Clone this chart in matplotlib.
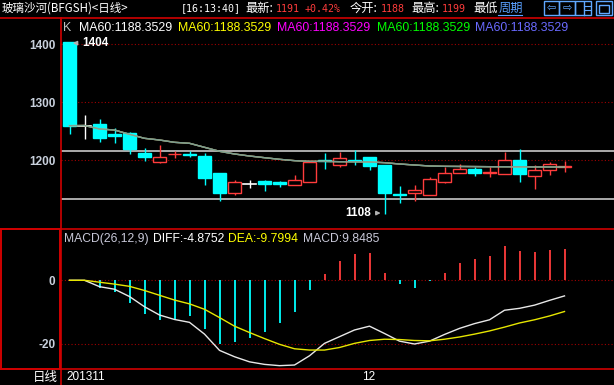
import matplotlib
matplotlib.use("Agg")
import matplotlib.pyplot as plt
from matplotlib.patches import Rectangle
from matplotlib.lines import Line2D
import matplotlib.transforms as mtrans

plt.rcParams["axes.unicode_minus"] = False

# candle data (34 daily bars)
opens = [1404, 1260, 1262, 1244.5, 1246.5, 1212, 1197.6, 1210.4, 1210.8, 1207.4,
         1178.1, 1144.2, 1158.6, 1163.7, 1162.6, 1158, 1163.2, 1200.2, 1192.5, 1200.5,
         1205.7, 1191.9, 1141.8, 1144.2, 1140.7, 1163.2, 1177.5, 1184.4, 1177.5, 1176.4,
         1200.5, 1173.5, 1182.7, 1188]
closes = [1259.7, 1260, 1239, 1242.5, 1218.9, 1206.3, 1205.1, 1211.4, 1209.8, 1170,
          1143.6, 1162, 1158.6, 1158.6, 1159.7, 1165.5, 1197.6, 1199.2, 1203.4, 1199.5,
          1190.7, 1144.2, 1140.8, 1148.2, 1167.2, 1177.5, 1184.4, 1178.7, 1179.8, 1200,
          1177, 1182.7, 1193, 1191]
highs = [1404, 1277.5, 1270.6, 1255.1, 1249.4, 1220.6, 1226.4, 1215.5, 1216.6, 1212,
         1178.1, 1166, 1165.5, 1165.5, 1163.5, 1174.1, 1197.6, 1212.6, 1214.3, 1217.8,
         1205.7, 1191.9, 1155.7, 1157.4, 1171.2, 1189, 1193, 1189, 1189, 1214.9,
         1219.5, 1191.9, 1197.1, 1199]
lows = [1244.8, 1236.2, 1232.1, 1230.4, 1211.4, 1199.4, 1195.9, 1204.5, 1206.3, 1157.4,
        1130.4, 1140.7, 1151.7, 1147.6, 1154.5, 1158, 1163.2, 1185.6, 1189, 1191.9,
        1183.8, 1108, 1127, 1130.4, 1140.7, 1160.9, 1177.5, 1173.5, 1171.8, 1176.4,
        1162.6, 1151.1, 1175.2, 1180.4]
ma60 = [1259.7, 1260, 1254, 1252.2, 1244.8, 1237.9, 1235, 1231, 1229.3, 1222.4,
        1215.5, 1210.9, 1207.4, 1204.5, 1201.7, 1199.4, 1198.2, 1198.2, 1197.6, 1197.6,
        1197.1, 1195.9, 1193.6, 1191.9, 1190.2, 1189.6, 1189.4, 1189.2, 1189, 1188.9,
        1188.8, 1188.6, 1188.5, 1188.35]
band_lines = [1215.5, 1132.8]

# MACD panel
macd_hist = [0, 0, -2.3, -3.6, -7.0, -10.6, -12.4, -12.3, -11.1, -15.2,
             -19.9, -19.4, -18.0, -16.1, -13.3, -9.9, -2.9, 2.0, 6.1, 8.3,
             8.6, 2.3, -1.2, -2.3, -0.3, 2.3, 5.4, 6.8, 7.6, 10.8,
             9.3, 8.9, 9.6, 9.85]
diff = [0, 0, -2.0, -2.8, -5.1, -8.3, -10.9, -12.3, -13.2, -16.9,
        -22.0, -24.0, -25.6, -26.4, -26.8, -26.6, -23.7, -19.8, -17.7, -15.6,
        -14.4, -16.7, -19.1, -20.0, -19.1, -17.0, -15.1, -13.6, -12.4, -9.4,
        -8.8, -7.8, -6.3, -4.9]
dea = [0, 0, -0.6, -1.2, -1.9, -3.2, -4.7, -6.2, -7.4, -9.1,
       -11.7, -14.4, -16.4, -18.3, -20.1, -21.5, -21.9, -21.9, -21.1, -19.8,
       -18.9, -18.5, -18.6, -18.9, -19.0, -18.5, -17.8, -16.9, -15.9, -14.7,
       -13.4, -12.4, -11.2, -9.8]

price_ticks = [1200, 1300, 1400]
macd_ticks = [0, -20]
date_labels = [(-0.23, "201311"), (19.93, "12")]

W, H = 614, 385
RED_LINE = "#d00000"
UP = "#ff3c3c"
DOWN = "#00ffff"
GRID = "#a00000"
LABEL = "#c8d0dc"
CJK = ["Noto Sans CJK SC", "DejaVu Sans"]
MONO = ["DejaVu Sans Mono", "Noto Sans CJK SC"]
SANS = ["Liberation Sans", "DejaVu Sans"]

fig = plt.figure(figsize=(W / 100, H / 100), dpi=100, facecolor="black")


def fx(x):
    return x / W


def fy(y):
    return 1 - y / H


def hline(y, x0=0, x1=W, color=RED_LINE, lw=1.2):
    fig.add_artist(Line2D([fx(x0), fx(x1)], [fy(y), fy(y)], transform=fig.transFigure,
                          color=color, lw=lw))


def vline(x, y0, y1, color=RED_LINE, lw=1.2):
    fig.add_artist(Line2D([fx(x), fx(x)], [fy(y0), fy(y1)], transform=fig.transFigure,
                          color=color, lw=lw))


def ftext(x, y, s, color="white", family=CJK, size=8.8, **kw):
    fig.text(fx(x), fy(y), s, color=color, family=family, size=size, va="center", **kw)


xs = list(range(len(closes)))
x_lo, x_hi = (61 - 69.5) / 15, (614 - 69.5) / 15

# ---- price panel ----
ax = fig.add_axes([fx(61), fy(228.5), 1 - fx(61), fy(18) - fy(228.5)], facecolor="black")
ax.set_xlim(x_lo, x_hi)
ax.set_ylim(1200 - (228.5 - 160.3) / 0.58, 1200 + (160.3 - 18) / 0.58)
for s in ax.spines.values():
    s.set_visible(False)
ax.set_xticks([])
ax.set_yticks(price_ticks)
ax.tick_params(axis="y", length=0, pad=4, colors=LABEL)
for lab in ax.get_yticklabels():
    lab.set_fontfamily(SANS)
    lab.set_fontweight("bold")
    lab.set_fontsize(8.5)
for p in price_ticks:
    ax.axhline(p, color=GRID, lw=0.8, ls=(0, (1, 2)), zorder=1)
for b in band_lines:
    ax.axhline(b, color="#c8c8c8", lw=1.2, zorder=1)

bw = 0.85
for i in xs:
    o, c, h, l = opens[i], closes[i], highs[i], lows[i]
    if c > o:
        col = UP
    elif c < o:
        col = DOWN
    else:
        col = "white"
    ax.plot([i, i], [l, h], color=col, lw=1, zorder=2, solid_capstyle="butt")
    lo_b, hi_b = min(o, c), max(o, c)
    if c > o:
        ax.add_patch(Rectangle((i - bw / 2, lo_b), bw, hi_b - lo_b, facecolor="black",
                               edgecolor=col, lw=1, zorder=3))
    elif c < o:
        ax.add_patch(Rectangle((i - bw / 2, lo_b), bw, hi_b - lo_b, facecolor=col,
                               edgecolor=col, lw=1, zorder=3))
    else:
        ax.plot([i - bw / 2, i + bw / 2], [o, o], color=col, lw=1.2, zorder=3)

for col in ["white", "#ffff00", "#ff00ff", "#00ff00", "#8a8ac8"]:
    ax.plot(xs, ma60, color=col, lw=1, alpha=0.55, zorder=4)

ax.annotate("", xy=(0.03, 1402), xytext=(0.72, 1402),
            arrowprops=dict(arrowstyle="-|>", color="#b0b0b0", lw=1, mutation_scale=6))
ax.text(0.82, 1402, "1404", color="white", family=SANS, weight="bold", size=8.5,
        va="center", ha="left")
ax.annotate("", xy=(20.93, 1109), xytext=(20.22, 1109),
            arrowprops=dict(arrowstyle="-|>", color="#b0b0b0", lw=1, mutation_scale=6))
ax.text(20.1, 1109, "1108", color="white", family=SANS, weight="bold", size=8.5,
        va="center", ha="right")

# ---- MACD panel ----
ax2 = fig.add_axes([fx(61), fy(369), 1 - fx(61), fy(228.5) - fy(369)], facecolor="black")
ax2.set_xlim(x_lo, x_hi)
ax2.set_ylim((280.3 - 369) / 3.185, (280.3 - 228.5) / 3.185)
for s in ax2.spines.values():
    s.set_visible(False)
ax2.set_xticks([])
ax2.set_yticks(macd_ticks)
ax2.tick_params(axis="y", length=0, pad=4, colors=LABEL)
for lab in ax2.get_yticklabels():
    lab.set_fontfamily(SANS)
    lab.set_fontweight("bold")
    lab.set_fontsize(8.5)
for t in macd_ticks:
    ax2.axhline(t, color=GRID, lw=0.8, ls=(0, (1, 2)), zorder=1)
for i in xs:
    v = macd_hist[i]
    if v != 0:
        ax2.plot([i, i], [0, v], color=UP if v > 0 else DOWN, lw=1.3, zorder=2,
                 solid_capstyle="butt")
ax2.plot(xs, diff, color="#e8e8e8", lw=1, zorder=3)
ax2.plot(xs, dea, color="#e6e600", lw=1, zorder=3)

tr = mtrans.blended_transform_factory(ax2.transData, fig.transFigure)
for xpos, lab in date_labels:
    ax2.text(xpos, fy(377), lab, transform=tr, color="white", family=SANS, size=8.5,
             va="center", ha="left" if xpos < 0 else "center")

# ---- frame lines ----
hline(17.5)
hline(228.5)
hline(369)
vline(61, 17.5, 385)
fig.add_artist(Rectangle((fx(0.8), fy(369)), fx(60) - fx(0.8), fy(229) - fy(369),
                         transform=fig.transFigure, fill=False, edgecolor=RED_LINE, lw=1.4))
ftext(45, 377, "日线", size=9, ha="center")

# ---- header ----
ftext(2, 8.5, "玻璃沙河(BFGSH)<日线>", size=8.3)
ftext(181, 8.5, "[16:13:40]", family=MONO, size=7.2)
ftext(245.5, 8.5, "最新:", size=8.8)
ftext(276, 8.5, "1191", color=UP, family=MONO, size=7.2)
ftext(305, 8.5, "+0.42%", color=UP, family=MONO, size=7.2)
ftext(349.6, 8.5, "今开:", size=8.8)
ftext(380.5, 8.5, "1188", color=UP, family=MONO, size=7.2)
ftext(411, 8.5, "最高:", size=8.8)
ftext(441.7, 8.5, "1199", color=UP, family=MONO, size=7.2)
ftext(473.8, 8.5, "最低", size=8.8)
fig.add_artist(Rectangle((fx(497), fy(16)), fx(28), fy(1) - fy(16), transform=fig.transFigure,
                         facecolor="black", edgecolor="none"))
ftext(498.4, 8.5, "周期", color="#5aa0ff", size=8.8)
hline(14.5, 498.4, 522, color="#5aa0ff", lw=0.8)

icon = "#60a8ff"
for x0, x1 in [(543.5, 558.5), (559, 574.5), (575, 590.5), (596, 611.5)]:
    fig.add_artist(Rectangle((fx(x0), fy(15)), fx(x1) - fx(x0), fy(1.5) - fy(15),
                             transform=fig.transFigure, fill=False, edgecolor=icon, lw=1))
ftext(551, 8, "⇦", color=icon, family=["DejaVu Sans"], size=8, ha="center")
ftext(567, 8, "⇨", color=icon, family=["DejaVu Sans"], size=8, ha="center")
vline(584, 1.5, 15, color=icon, lw=1)
hline(6, 584, 590.5, color=icon, lw=0.8)
hline(10, 584, 590.5, color=icon, lw=0.8)
fig.add_artist(Rectangle((fx(599), fy(12.5)), fx(10), fy(5) - fy(12.5),
                         transform=fig.transFigure, fill=False, edgecolor=icon, lw=1))

# ---- legends ----
ftext(63.5, 28, "K", color="#c0c0c0", family=SANS, size=8.9)
for x0, col in [(79.5, "white"), (178, "#ffff00"), (277, "#ff00ff"),
                (376.6, "#00ff00"), (475, "#6a6aff")]:
    ftext(x0, 28, "MA60:1188.3529", color=col, family=SANS, size=8.9)

ftext(64, 239, "MACD(26,12,9)", color="#c8c8d8", family=SANS, size=8.7)
ftext(153, 239, "DIFF:-4.8752", color="white", family=SANS, size=8.7)
ftext(228, 239, "DEA:-9.7994", color="#ffff00", family=SANS, size=8.7)
ftext(302.7, 239, "MACD:9.8485", color="#c8c8d8", family=SANS, size=8.7)

fig.savefig("out.png", dpi=100, facecolor="black")
